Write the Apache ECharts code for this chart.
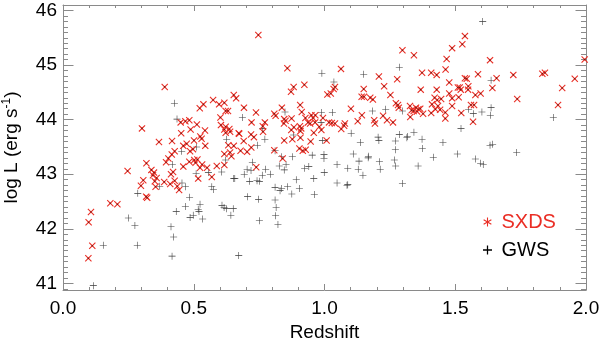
<!DOCTYPE html>
<html>
<head>
<meta charset="utf-8">
<script src="https://cdn.jsdelivr.net/npm/echarts@6/dist/echarts.min.js"></script>
<style>
  html, body { margin: 0; padding: 0; background: #fff; }
  #chart { width: 600px; height: 339px; }
</style>
</head>
<body>
<div id="chart"></div>
<script>
// SXDS sources: [redshift, log L]
var sxdsData = [
  [0.097, 41.46], [0.112, 41.69], [0.098, 42.12], [0.107, 42.31], [0.181, 42.47], [0.208, 42.45], [0.247, 43.06],
  [0.302, 43.84], [0.307, 42.89], [0.298, 42.79], [0.318, 42.59], [0.322, 42.57],
  [0.338, 43.08], [0.348, 43.03], [0.344, 42.98], [0.358, 42.93], [0.351, 42.87], [0.354, 42.77], [0.387, 42.86],
  [0.413, 43.00], [0.421, 43.04], [0.410, 42.82], [0.427, 42.88], [0.437, 42.78], [0.444, 42.71], [0.460, 43.14],
  [0.517, 42.92], [0.524, 43.12], [0.569, 42.95],
  [0.389, 44.60], [0.450, 43.95], [0.468, 43.97], [0.483, 43.99], [0.512, 43.91], [0.543, 43.80], [0.452, 43.75],
  [0.367, 43.59], [0.417, 43.61], [0.473, 43.56], [0.460, 43.52], [0.501, 43.62], [0.525, 43.69], [0.530, 43.65],
  [0.544, 43.52], [0.497, 43.46], [0.486, 43.42], [0.427, 43.42], [0.416, 43.36], [0.403, 43.29], [0.394, 43.22],
  [0.319, 43.20], [0.483, 43.23], [0.502, 43.26], [0.507, 43.21], [0.514, 43.27], [0.532, 43.18],
  [0.551, 43.12], [0.588, 43.15], [0.617, 43.17], [0.617, 43.37], [0.639, 43.40], [0.653, 43.52], [0.632, 43.53],
  [0.644, 43.33], [0.604, 43.90], [0.622, 43.87], [0.617, 43.82], [0.636, 43.83], [0.639, 43.78], [0.622, 43.76],
  [0.672, 43.75], [0.602, 44.04], [0.622, 44.16], [0.631, 44.16], [0.523, 44.21], [0.537, 44.28], [0.574, 44.36],
  [0.597, 44.28], [0.617, 44.31], [0.653, 44.45], [0.662, 44.39], [0.488, 43.82],
  [0.747, 45.55], [0.858, 44.94], [1.063, 44.93], [1.208, 44.79], [1.278, 44.74], [0.882, 44.60], [0.872, 44.51],
  [0.923, 44.64], [1.040, 44.60], [1.035, 44.56], [1.011, 44.46], [1.024, 44.48], [1.228, 44.61], [1.150, 44.56],
  [1.142, 44.42], [1.151, 44.42], [1.252, 44.45], [1.175, 44.40], [1.185, 44.37], [1.281, 44.27], [1.273, 44.30],
  [0.692, 44.22], [0.738, 44.13], [0.721, 43.95], [0.772, 43.95], [0.764, 43.88], [0.808, 44.11], [0.813, 44.07],
  [0.837, 44.22], [0.907, 44.27], [0.913, 44.14], [0.846, 44.01], [0.851, 43.98], [0.845, 43.93], [0.874, 44.02],
  [0.927, 44.03], [0.937, 43.95], [0.950, 44.08], [0.965, 44.08], [0.956, 44.03], [0.945, 43.93], [0.964, 43.95],
  [0.994, 44.03], [1.017, 43.95], [1.028, 43.94], [1.040, 43.93], [1.078, 43.93], [1.075, 43.89], [1.101, 44.20],
  [1.127, 43.97], [1.143, 44.08], [1.190, 43.99], [1.193, 43.93], [1.224, 44.07], [1.239, 43.99], [1.262, 43.95],
  [1.284, 44.22], [1.333, 44.17], [1.328, 44.05], [0.674, 43.74], [0.691, 43.61], [0.719, 43.73], [0.730, 43.68],
  [0.765, 43.78], [0.679, 43.43], [0.704, 43.41], [0.720, 43.49], [0.808, 43.44], [0.846, 43.62], [0.873, 43.81],
  [0.883, 43.86], [0.906, 43.88], [0.911, 43.84], [0.908, 43.79], [0.877, 43.64], [0.908, 43.67], [0.959, 43.76],
  [0.980, 43.87], [0.988, 43.81], [0.947, 43.60], [1.008, 43.62], [0.904, 43.47], [0.917, 43.43], [0.928, 43.45],
  [1.064, 43.83], [0.840, 43.29], [0.739, 43.13],
  [1.298, 45.27], [1.537, 45.53], [1.527, 45.38], [1.488, 45.31], [1.342, 45.18], [1.467, 45.11], [1.633, 45.09],
  [1.995, 45.10], [1.373, 44.86], [1.408, 44.86], [1.429, 44.82], [1.463, 44.92], [1.587, 44.83], [1.722, 44.82],
  [1.833, 44.84], [1.843, 44.86], [1.957, 44.75], [1.658, 44.76], [1.477, 44.68], [1.537, 44.76], [1.544, 44.75],
  [1.517, 44.59], [1.510, 44.59], [1.550, 44.61], [1.368, 44.55], [1.429, 44.55], [1.642, 44.58], [1.909, 44.58],
  [1.521, 44.55], [1.549, 44.55], [1.477, 44.48], [1.488, 44.39], [1.513, 44.41], [1.577, 44.45], [1.597, 44.48],
  [1.421, 44.40], [1.431, 44.36], [1.446, 44.38], [1.737, 44.38], [1.893, 44.27], [1.327, 44.25], [1.350, 44.22],
  [1.366, 44.20], [1.354, 44.15], [1.377, 44.11], [1.411, 44.28], [1.434, 44.25], [1.424, 44.19], [1.442, 44.18],
  [1.408, 44.12], [1.462, 44.13], [1.462, 44.02], [1.488, 44.25], [1.523, 44.12], [1.560, 44.27], [1.572, 44.27],
  [1.568, 43.96], [1.341, 44.16], [1.359, 44.19]
];

// GWS sources: [redshift, log L]
var gwsData = [
  [0.116, 40.96], [0.154, 41.70], [0.284, 41.70], [0.250, 42.20], [0.275, 42.06], [0.286, 42.65], [0.413, 42.04],
  [0.423, 41.85], [0.417, 41.50], [0.433, 42.32], [0.468, 42.41], [0.484, 42.58], [0.486, 42.21], [0.498, 42.25],
  [0.524, 42.45], [0.517, 42.36], [0.520, 42.32], [0.534, 42.18], [0.608, 42.43], [0.616, 42.39], [0.625, 42.37],
  [0.651, 42.37], [0.642, 42.25], [0.370, 42.78], [0.455, 42.84], [0.468, 42.77], [0.509, 43.01], [0.556, 43.03],
  [0.569, 42.77], [0.575, 42.72], [0.607, 43.04], [0.653, 42.92],
  [0.426, 44.30], [0.436, 44.01], [0.511, 43.50], [0.454, 43.42], [0.418, 43.18], [0.622, 43.26], [0.626, 43.64],
  [0.990, 44.85], [1.150, 44.83], [1.286, 44.96], [1.036, 44.69], [0.686, 44.04], [0.849, 44.14], [0.988, 44.13],
  [1.030, 44.13], [0.987, 43.95], [1.102, 43.75], [1.183, 44.16], [1.234, 44.19], [1.298, 44.16], [0.772, 43.64],
  [0.743, 43.53], [0.811, 43.43], [0.882, 43.72], [0.992, 43.62], [0.953, 43.35], [1.137, 43.58], [1.205, 43.68],
  [1.208, 43.62], [1.271, 43.61], [1.271, 43.45], [1.286, 43.73], [1.315, 43.67], [0.836, 43.32], [0.998, 43.36],
  [0.998, 43.29], [1.168, 43.33], [0.764, 43.84], [1.110, 43.37],
  [0.724, 43.22], [0.704, 43.09], [0.719, 43.07], [0.693, 43.00], [0.775, 43.09], [0.762, 42.98], [0.793, 43.00],
  [0.714, 42.87], [0.742, 42.88], [0.751, 42.87], [0.657, 42.92], [0.706, 42.59], [0.748, 42.54], [0.811, 42.76],
  [0.836, 42.74], [0.830, 42.70], [0.859, 42.77], [0.904, 42.74], [0.875, 42.64], [0.827, 43.15], [0.853, 43.18],
  [0.846, 43.08], [0.877, 43.32], [0.892, 42.90], [0.924, 43.11], [0.940, 43.14], [0.959, 42.92], [0.961, 42.63],
  [0.999, 43.03], [1.048, 43.18], [1.048, 42.84], [1.086, 42.80], [1.089, 42.81], [1.089, 43.11], [1.132, 43.24],
  [1.129, 43.09], [1.147, 42.98], [1.167, 43.30], [1.210, 43.23], [1.213, 43.09], [1.267, 43.26], [1.272, 43.15],
  [1.298, 42.83], [0.811, 42.53], [0.815, 42.39], [0.813, 42.24], [0.822, 42.08], [0.751, 42.15], [0.672, 41.51],
  [1.605, 45.80], [1.637, 44.72], [1.551, 44.19], [1.569, 44.11], [1.602, 44.14], [1.637, 44.22], [1.634, 44.08],
  [1.875, 44.04], [1.522, 43.84], [1.342, 43.77], [1.373, 43.64], [1.374, 43.47], [1.453, 43.58], [1.416, 43.31],
  [1.508, 43.37], [1.633, 43.53], [1.643, 43.55], [1.735, 43.40], [1.577, 43.28], [1.597, 43.20], [1.607, 43.18],
  [1.358, 43.15], [1.317, 43.69]
];

var yTicks = [41, 42, 43, 44, 45, 46];
var yMinorTicks = [];
for (var v = 409; v <= 461; v++) { yMinorTicks.push(v / 10); }

var yMin = 40.88, yMax = 46.1;
var FONT = 'Liberation Sans, Arial, Helvetica, sans-serif';
var RED = '#ea2e25';
var FRAME = '#8a8a8a';

// filled shapes so the legend icons look like the markers
var crossX = 'path://M0,1.1L1.1,0L5,3.9L8.9,0L10,1.1L6.1,5L10,8.9L8.9,10L5,6.1L1.1,10L0,8.9L3.9,5Z';
var plusThin = 'path://M4.6,0H5.4V4.6H10V5.4H5.4V10H4.6V5.4H0V4.6H4.6Z';
var plusBold = 'path://M4.3,0H5.7V4.3H10V5.7H5.7V10H4.3V5.7H0V4.3H4.3Z';
var asterisk = 'path://M4.4,0H5.6V3.9L9,2L9.6,3L6.2,5L9.6,7L9,8L5.6,6.1V10H4.4V6.1L1,8L0.4,7L3.8,5L0.4,3L1,2L4.4,3.9Z';

var chart = echarts.init(document.getElementById('chart'));

function yAxisDef(pos, values, len, withLine, withLabel) {
  return {
    type: 'value', position: pos, min: yMin, max: yMax,
    axisLine: { show: withLine, lineStyle: { color: FRAME, width: 1 } },
    axisTick: { show: true, inside: true, length: len, customValues: values, lineStyle: { color: FRAME } },
    axisLabel: withLabel ? {
      show: true, customValues: yTicks, color: '#000', fontSize: 19, fontFamily: FONT, margin: 6,
      formatter: function (v) { return String(Math.round(v)); }
    } : { show: false },
    splitLine: { show: false }
  };
}

function xAxisDef(pos, withLabel) {
  return {
    type: 'value', position: pos, min: 0, max: 2, interval: 0.5,
    axisLine: { show: true, onZero: false, lineStyle: { color: FRAME, width: 1 } },
    axisTick: { show: true, inside: true, length: 6, lineStyle: { color: FRAME } },
    minorTick: { show: true, splitNumber: 5, length: 3, lineStyle: { color: FRAME } },
    axisLabel: withLabel ? {
      show: true, color: '#000', fontSize: 19, fontFamily: FONT, margin: 9,
      formatter: function (v) { return v.toFixed(1); }
    } : { show: false },
    splitLine: { show: false }
  };
}

var xBottom = xAxisDef('bottom', true);
xBottom.name = 'Redshift';
xBottom.nameLocation = 'middle';
xBottom.nameGap = 25;
xBottom.nameTextStyle = { color: '#000', fontSize: 19, fontFamily: FONT };

var yLeft = yAxisDef('left', yTicks, 10.5, true, true);
yLeft.name = 'log L (erg s{sup|-1})';
yLeft.nameLocation = 'middle';
yLeft.nameGap = 41;
yLeft.nameTextStyle = {
  color: '#000', fontSize: 19, fontFamily: FONT,
  rich: { sup: { fontSize: 12, fontFamily: FONT, color: '#000', padding: [0, 0, 9, 0] } }
};

var option = {
  animation: false,
  backgroundColor: '#fff',
  grid: { left: 63, right: 14, top: 5, bottom: 49, containLabel: false, outerBoundsMode: 'none' },
  xAxis: [xBottom, xAxisDef('top', false)],
  yAxis: [
    yLeft,
    yAxisDef('left', yMinorTicks, 5, false, false),
    yAxisDef('right', yTicks, 10.5, true, false),
    yAxisDef('right', yMinorTicks, 5, false, false)
  ],
  legend: {
    orient: 'vertical',
    left: 478, top: 207,
    itemWidth: 18, itemHeight: 9, itemGap: 8,
    textStyle: { fontSize: 20, fontFamily: FONT },
    data: [
      { name: 'SXDS', icon: asterisk, itemStyle: { color: RED }, textStyle: { color: RED } },
      { name: 'GWS', icon: plusBold, itemStyle: { color: '#000' }, textStyle: { color: '#000' } }
    ]
  },
  series: [
    {
      name: 'GWS', type: 'scatter', data: gwsData,
      symbol: plusThin, symbolSize: 7,
      itemStyle: { color: '#3a3a3a', opacity: 1 }
    },
    {
      name: 'SXDS', type: 'scatter', data: sxdsData,
      symbol: crossX, symbolSize: 7,
      itemStyle: { color: RED, opacity: 1 }
    },
    {
      name: 'SXDS core', type: 'scatter', data: sxdsData,
      symbol: 'circle', symbolSize: 1.6,
      itemStyle: { color: '#6a1c16', opacity: 1 }
    }
  ]
};

chart.setOption(option);
</script>
</body>
</html>
